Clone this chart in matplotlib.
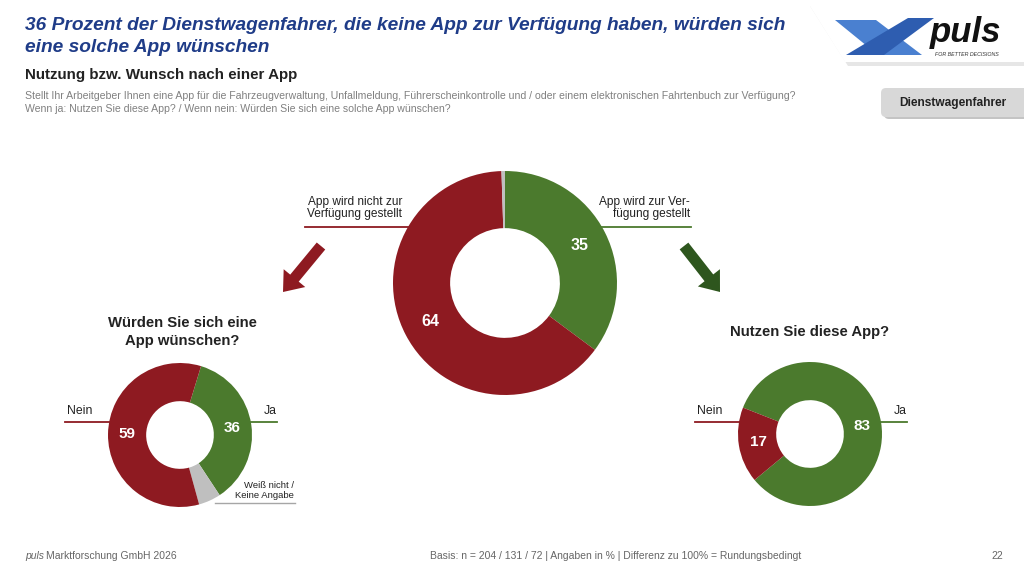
import matplotlib
matplotlib.use('Agg')
import matplotlib.pyplot as plt
from matplotlib.patches import Polygon, FancyArrow, FancyBboxPatch

plt.rcParams['font.family'] = ['Liberation Sans', 'DejaVu Sans']

# ---------------- data ----------------
main_labels = ['App wird zur Verfügung gestellt', 'App wird nicht zur Verfügung gestellt', 'Weiß nicht / Keine Angabe']
main_values = [35, 64, 0.5]
wish_labels = ['Ja', 'Weiß nicht / Keine Angabe', 'Nein']
wish_values = [36, 5, 59]
use_labels = ['Ja', 'Nein']
use_values = [83, 17]

title1 = '36 Prozent der Dienstwagenfahrer, die keine App zur Verfügung haben, würden sich'
title2 = 'eine solche App wünschen'
subtitle = 'Nutzung bzw. Wunsch nach einer App'
question1 = ('Stellt Ihr Arbeitgeber Ihnen eine App für die Fahrzeugverwaltung, Unfallmeldung, '
             'Führerscheinkontrolle und / oder einem elektronischen Fahrtenbuch zur Verfügung?')
question2 = 'Wenn ja: Nutzen Sie diese App? / Wenn nein: Würden Sie sich eine solche App wünschen?'
footer_mid = 'Basis: n = 204 / 131 / 72 | Angaben in % | Differenz zu 100% = Rundungsbedingt'

RED = '#8E1A21'
GREEN = '#4B7A2D'
GRAY = '#BFBFBF'
DKGREEN = '#2E561E'
BLUE = '#1F3C88'
TXT = '#222222'

W, H = 1024, 576
fig = plt.figure(figsize=(10.24, 5.76), dpi=100)
bg = fig.add_axes([0, 0, 1, 1])
bg.set_xlim(0, W)
bg.set_ylim(H, 0)
bg.axis('off')


def donut(cx, cy, r, values, colors, start, width, pctd, fs):
    s = 2.5 * r
    ax = fig.add_axes([(cx - s / 2) / W, 1 - (cy + s / 2) / H, s / W, s / H])
    total = sum(values)
    ax.pie(values, colors=colors, startangle=start, counterclock=False,
           wedgeprops=dict(width=width, linewidth=0),
           autopct=lambda p: f'{p * total / 100:.0f}' if p >= 10 else '',
           pctdistance=pctd,
           textprops=dict(color='white', fontsize=fs, fontweight='bold'))
    ax.set_xlim(-1.25, 1.25)
    ax.set_ylim(-1.25, 1.25)
    ax.set_aspect('equal')
    return ax


# ---------------- header ----------------
bg.text(25, 25, title1, color=BLUE, fontsize=13.8, fontweight='bold', style='italic',
        va='center', ha='left')
bg.text(25, 48, title2, color=BLUE, fontsize=13.8, fontweight='bold', style='italic',
        va='center', ha='left')
bg.text(25, 75, subtitle, color=TXT, fontsize=10.9, fontweight='bold', va='center')
bg.text(25, 96, question1, color='#808080', fontsize=7.6, va='center')
bg.text(25, 109, question2, color='#808080', fontsize=7.6, va='center')

# logo tab
bg.add_patch(Polygon([(810, 6), (1026, 6), (1026, 66), (848, 66)], closed=True,
                     facecolor='#E6E6E6', edgecolor='none'))
bg.add_patch(Polygon([(808, 3), (1026, 3), (1026, 62), (845, 62)], closed=True,
                     facecolor='white', edgecolor='none'))
bg.add_patch(Polygon([(835, 20), (876, 20), (922, 55), (878, 55)], closed=True,
                     facecolor='#4A80D0', edgecolor='none'))
bg.add_patch(Polygon([(908, 18), (934, 18), (884, 55), (846, 55)], closed=True,
                     facecolor='#2E5DB0', edgecolor='none'))
bg.text(930, 42, 'puls', fontsize=25, fontweight='bold', style='italic', color='#111111',
        va='baseline', ha='left')
bg.text(935, 54, 'FOR BETTER DECISIONS', fontsize=3.8, style='italic', color='#333333',
        va='center', ha='left')

# group box
bg.add_patch(FancyBboxPatch((884, 91), 150, 28, boxstyle='round,pad=0,rounding_size=5',
                            facecolor='#C4C4C4', edgecolor='none'))
bg.add_patch(FancyBboxPatch((881, 88), 150, 29, boxstyle='round,pad=0,rounding_size=5',
                            facecolor='#D8D8D8', edgecolor='none'))
bg.text(953, 103, 'Dienstwagenfahrer', fontsize=8.6, fontweight='bold', color=TXT,
        ha='center', va='center')

# ---------------- main donut ----------------
donut(505, 283, 112, main_values, [GREEN, RED, GRAY], 90, 0.51, 0.75, 11.5)

bg.text(402, 202, 'App wird nicht zur', fontsize=8.6, color=TXT, ha='right', va='center')
bg.text(402, 214, 'Verfügung gestellt', fontsize=8.6, color=TXT, ha='right', va='center')
bg.plot([305, 410], [227, 227], color=RED, lw=1.3)
bg.text(690, 202, 'App wird zur Ver-', fontsize=8.6, color=TXT, ha='right', va='center')
bg.text(690, 214, 'fügung gestellt', fontsize=8.6, color=TXT, ha='right', va='center')
bg.plot([600, 691], [227, 227], color=GREEN, lw=1.3)

bg.add_patch(FancyArrow(321, 246, -38, 46, width=11, head_width=28, head_length=18,
                        length_includes_head=True, facecolor=RED, edgecolor='none'))
bg.add_patch(FancyArrow(684, 246, 36, 46, width=11, head_width=28, head_length=18,
                        length_includes_head=True, facecolor=DKGREEN, edgecolor='none'))

# ---------------- left donut ----------------
bg.text(182, 323, 'Würden Sie sich eine', fontsize=10.7, fontweight='bold', color=TXT,
        ha='center', va='center')
bg.text(182, 341, 'App wünschen?', fontsize=10.7, fontweight='bold', color=TXT,
        ha='center', va='center')
donut(180, 435, 72, wish_values, [GREEN, GRAY, RED], 73, 0.53, 0.73, 11)
bg.text(67, 411, wish_labels[2], fontsize=8.8, color=TXT, ha='left', va='center')
bg.plot([65, 109], [422, 422], color=RED, lw=1.3)
bg.text(277, 411, wish_labels[0], fontsize=8.8, color=TXT, ha='right', va='center')
bg.plot([251, 277], [422, 422], color=GREEN, lw=1.3)
bg.text(294, 485, 'Weiß nicht /', fontsize=6.8, color=TXT, ha='right', va='center')
bg.text(294, 496, 'Keine Angabe', fontsize=6.8, color=TXT, ha='right', va='center')
bg.plot([215, 295], [503, 503], color='#A6A6A6', lw=1.0)

# ---------------- right donut ----------------
bg.text(810, 332, 'Nutzen Sie diese App?', fontsize=10.7, fontweight='bold', color=TXT,
        ha='center', va='center')
donut(810, 434, 72, use_values, [GREEN, RED], -201.5, 0.53, 0.73, 11)
bg.text(697, 411, use_labels[1], fontsize=8.8, color=TXT, ha='left', va='center')
bg.plot([695, 739], [422, 422], color=RED, lw=1.3)
bg.text(907, 411, use_labels[0], fontsize=8.8, color=TXT, ha='right', va='center')
bg.plot([881, 907], [422, 422], color=GREEN, lw=1.3)

# ---------------- footer ----------------
bg.text(25, 556, 'puls', fontsize=7.5, style='italic', color='#666666', ha='left', va='center')
bg.text(46, 556, 'Marktforschung GmbH 2026', fontsize=7.5, color='#666666', ha='left', va='center')
bg.text(616, 556, footer_mid, fontsize=7.5, color='#666666', ha='center', va='center')
bg.text(1003, 556, '22', fontsize=7.5, color='#666666', ha='right', va='center')

fig.savefig('out.png', dpi=100)
